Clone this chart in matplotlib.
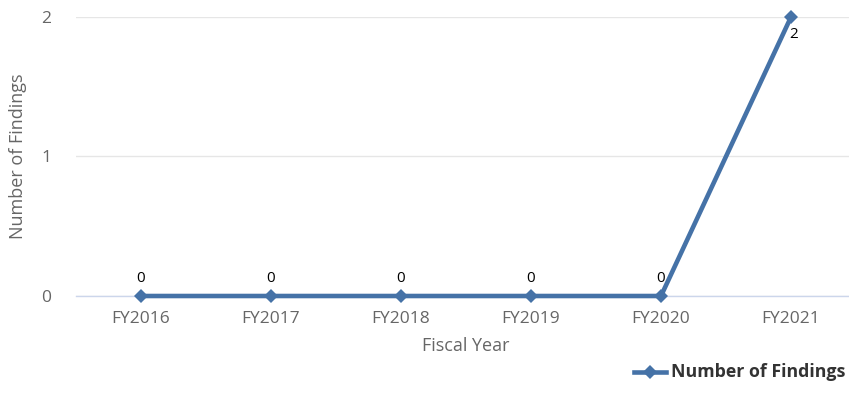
import matplotlib.pyplot as plt
from matplotlib.lines import Line2D

# data
years = ["FY2016", "FY2017", "FY2018", "FY2019", "FY2020", "FY2021"]
findings = [0, 0, 0, 0, 0, 2]

plt.rcParams["font.family"] = ["Open Sans", "DejaVu Sans"]

LINE = "#4572A7"
W, H = 849, 411

fig = plt.figure(figsize=(W / 100, H / 100), dpi=100)
# plot area runs past the right edge, as in the reference
ax = fig.add_axes([76 / W, 1 - 296 / H, 780 / W, (296 - 17) / H])

x = list(range(len(years)))
ax.plot(x, findings, color=LINE, lw=3.3, marker="D", ms=7,
        markeredgewidth=0, clip_on=False, zorder=3)

# data labels
for i, v in enumerate(findings):
    if v == max(findings) and v > 0:
        ax.annotate(str(v), (i, v), xytext=(2, -7), textcoords="offset points",
                    ha="center", va="top", fontsize=11, color="black")
    else:
        ax.annotate(str(v), (i, v), xytext=(0, 7), textcoords="offset points",
                    ha="center", va="bottom", fontsize=11, color="black")

ax.set_xlim(-0.5, 5.5)
ax.set_ylim(0, 2)
ax.set_yticks([0, 1, 2])
ax.set_xticks(x)
ax.set_xticklabels(years)
ax.tick_params(axis="both", length=0, labelsize=12.5, labelcolor="#666666")
ax.tick_params(axis="y", pad=18)
ax.tick_params(axis="x", pad=11)

ax.grid(axis="y", color="#e6e6e6", lw=1)
ax.set_axisbelow(True)
for s in ["top", "right", "left"]:
    ax.spines[s].set_visible(False)
ax.spines["bottom"].set_color("#ccd6eb")
ax.spines["bottom"].set_linewidth(1)

ax.set_xlabel("Fiscal Year", fontsize=13, color="#666666", labelpad=7)
ax.set_ylabel("Number of Findings", fontsize=13, color="#666666", labelpad=10)

# legend at the bottom right
ly = 1 - 372 / H
fig.add_artist(Line2D([634 / W, 666 / W], [ly, ly], color=LINE, lw=3.3,
                      transform=fig.transFigure))
fig.add_artist(Line2D([650 / W], [ly], color=LINE, marker="D", ms=7,
                      markeredgewidth=0, transform=fig.transFigure))
fig.text(671 / W, ly, "Number of Findings", fontsize=12.8,
         fontweight="bold", color="#333333", va="center", ha="left")

fig.savefig("out.png", dpi=100)
